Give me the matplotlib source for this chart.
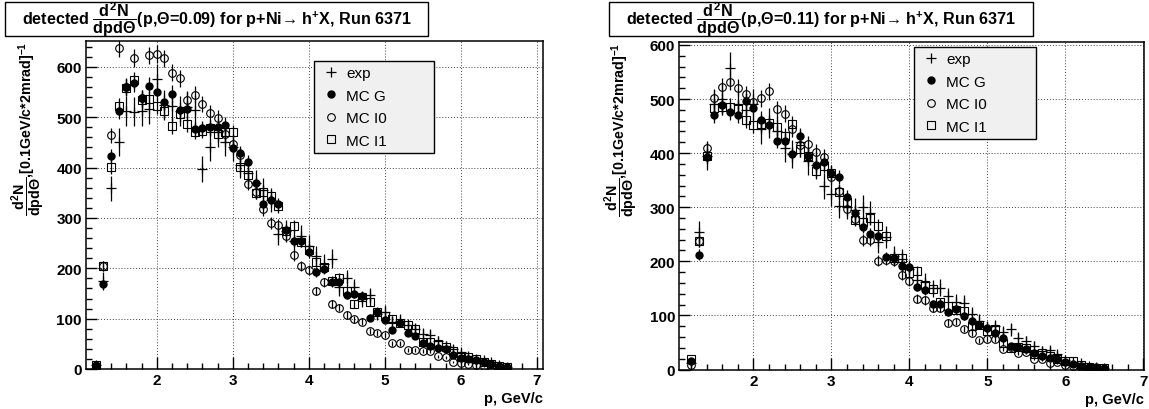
import numpy as np
import matplotlib
matplotlib.use("Agg")
import matplotlib.pyplot as plt
from matplotlib.patches import Rectangle
from matplotlib.ticker import MultipleLocator

plt.rcParams['font.family'] = ['Liberation Sans', 'DejaVu Sans']
plt.rcParams['mathtext.fontset'] = 'custom'
plt.rcParams['mathtext.rm'] = 'Liberation Sans:bold'
plt.rcParams['mathtext.it'] = 'Liberation Sans:bold'
plt.rcParams['mathtext.bf'] = 'Liberation Sans:bold'

# -----------------------------
# Data
# -----------------------------
p_left = np.round(np.arange(1.2, 6.65, 0.1), 1)
p_right = np.round(np.arange(1.2, 6.55, 0.1), 1)

exp_left = [8, 175, 359, 451, 513, 511, 512, 517, 575, 525,
            522, 512, 520, 514, 398, 441, 470, 451, 440, 405,
            390, 370, 355, 335, 268, 275, 255, 265, 245, 225,
            209, 219, 162, 180, 162, 139, 146, 110, 113, 93,
            96, 88, 80, 70, 68, 55, 46, 40, 33, 25,
            20, 17, 13, 8, 4]
mcg_left = [8, 168, 423, 513, 561, 567, 538, 563, 551, 530,
            547, 515, 516, 476, 478, 480, 480, 485, 439, 429,
            411, 369, 328, 335, 327, 277, 254, 254, 232, 193,
            199, 172, 173, 147, 149, 144, 102, 114, 98, 78,
            91, 71, 65, 51, 45, 41, 40, 27, 21, 20,
            17, 13.5, 10, 6, 4]
mci0_left = [5, 205, 464, 637, 560, 618, 538, 623, 626, 617,
             588, 577, 535, 545, 526, 509, 499, 466, 446, 425,
             368, 351, 317, 290, 286, 264, 226, 205, 197, 155,
             172, 129, 122, 107, 99, 94, 75, 72, 68, 51,
             51, 38, 38, 36, 35, 25, 23, 13.5, 12, 9.5,
             7, 5.7, 4, 3, 2]
mci1_left = [7, 205, 401, 523, 559, 573, 535, 536, 523, 512,
             483, 507, 486, 471, 473, 479, 466, 470, 470, 402,
             385, 350, 352, 343, 323, 275, 284, 253, 237, 213,
             202, 175, 181, 154, 129, 143, 134, 113, 106, 99,
             92, 87, 80, 53, 53, 49, 43, 35, 23, 23,
             19, 13.5, 9.5, 5.7, 3.7]

exp_right = [12, 254, 395, 490, 500, 557, 490, 480, 490, 445,
             455, 440, 410, 398, 420, 385, 378, 340, 325, 303,
             300, 295, 300, 290, 235, 245, 210, 205, 185, 165,
             161, 150, 151, 136, 125, 123, 102, 90, 78, 80,
             70, 74, 59, 52, 44, 35, 36, 28, 18, 14,
             12, 7, 5, 3]
mcg_right = [15, 212, 393, 471, 489, 476, 471, 496, 484, 462,
             452, 423, 423, 398, 431, 395, 378, 383, 363, 356,
             319, 290, 264, 250, 246, 208, 207, 192, 189, 153,
             147, 121, 121, 106, 111, 99, 90, 83, 76, 67,
             59, 44, 42, 38, 31, 25, 22, 18.5, 14, 11,
             7, 5, 4, 2.5]
mci0_right = [9, 238, 409, 501, 522, 532, 521, 509, 494, 501,
              514, 481, 473, 445, 415, 417, 402, 393, 356, 330,
              296, 278, 240, 240, 201, 203, 201, 174, 164, 131,
              128, 113, 114, 86, 88, 75, 67, 54, 57, 57,
              38, 42, 30, 32, 20, 19, 12, 13, 9, 6,
              5, 3, 2, 1.5]
mci1_right = [19, 237, 395, 484, 486, 486, 482, 462, 452, 454,
              456, 449, 432, 454, 407, 395, 367, 376, 364, 328,
              309, 277, 273, 280, 266, 247, 207, 207, 178, 182,
              156, 148, 125, 118, 110, 108, 81, 83, 71, 74,
              49, 40, 42, 40, 28, 31, 25, 20, 15, 15,
              9, 5, 3, 2]

labels = ["exp", "MC G", "MC I0", "MC I1"]
thetas = ["0.09", "0.11"]

# -----------------------------
# Figure
# -----------------------------
W, H = 1149, 410
fig = plt.figure(figsize=(W / 100, H / 100), dpi=100)

ax_l = fig.add_axes([86 / W, 40 / H, 457 / W, 328.3 / H])
ax_r = fig.add_axes([679.3 / W, 39.5 / H, 464.7 / W, 327.8 / H])

frac = r'$\dfrac{d^{2}N}{dpd\Theta}$'


def draw_panel(ax, p, exp, mcg, mci0, mci1, xlim, ymax, leg_x, leg_top):
    exp = np.array(exp, float)
    mcg = np.array(mcg, float)
    mci0 = np.array(mci0, float)
    mci1 = np.array(mci1, float)
    kw = dict(ls='none', ecolor='black', elinewidth=0.9, capsize=0)
    # poisson-like statistical errors
    h_exp = ax.errorbar(p, exp, yerr=1.3 * np.sqrt(exp), marker='+', ms=7,
                        mew=0.9, color='black', **kw)
    h_g = ax.errorbar(p, mcg, yerr=0.7 * np.sqrt(mcg), marker='o', ms=5,
                      mfc='black', mec='black', **kw)
    h_i0 = ax.errorbar(p, mci0, yerr=0.7 * np.sqrt(mci0), marker='o', ms=5.5,
                       mfc='none', mec='black', mew=0.8, **kw)
    h_i1 = ax.errorbar(p, mci1, yerr=0.7 * np.sqrt(mci1), marker='s', ms=5.5,
                       mfc='none', mec='black', mew=0.8, **kw)

    ax.set_xlim(*xlim)
    ax.set_ylim(0, ymax)
    ax.xaxis.set_major_locator(MultipleLocator(1))
    ax.xaxis.set_minor_locator(MultipleLocator(0.2))
    ax.yaxis.set_major_locator(MultipleLocator(100))
    ax.yaxis.set_minor_locator(MultipleLocator(20))
    ax.tick_params(which='both', direction='in', top=False, right=False,
                   width=1, labelsize=11)
    ax.tick_params(axis='y', which='major', length=8, pad=3)
    ax.tick_params(axis='y', which='minor', length=4)
    ax.tick_params(axis='x', which='major', length=9, pad=3)
    ax.tick_params(axis='x', which='minor', length=4.5)
    for lab in ax.get_xticklabels() + ax.get_yticklabels():
        lab.set_fontweight('bold')
    ax.grid(True, which='major', ls=(0, (1, 2)), color='#444444', lw=0.7)
    for s in ax.spines.values():
        s.set_linewidth(1.1)

    ax.set_xlabel("p, GeV/c", loc='right', fontsize=10.5, fontweight='bold',
                  labelpad=3)
    ax.set_ylabel(frac + r',[0.1GeV/c*2mrad]$^{-1}$', loc='top', fontsize=10.3,
                  fontweight='bold')
    ax.yaxis.set_label_coords(-0.085, 1.0)

    leg = ax.legend([h_exp[0], h_g[0], h_i0[0], h_i1[0]], labels,
                    loc='upper left', bbox_to_anchor=(leg_x, 0, 0.262, leg_top),
                    mode='expand', fontsize=11, labelspacing=0.55,
                    borderpad=0.35, handlelength=1.5, handletextpad=0.25,
                    borderaxespad=0, fancybox=False, framealpha=1)
    leg.get_frame().set_facecolor('#f0f0f0')
    leg.get_frame().set_edgecolor('black')
    leg.get_frame().set_linewidth(1.0)


draw_panel(ax_l, p_left, exp_left, mcg_left, mci0_left, mci1_left,
           (1.07, 7.08), 652, 0.499, 0.938)
draw_panel(ax_r, p_right, exp_right, mcg_right, mci0_right, mci1_right,
           (1.05, 7.01), 606, 0.505, 0.984)

# -----------------------------
# Title boxes
# -----------------------------
for x0, x1, th in [(5, 428, thetas[0]), (609, 1033, thetas[1])]:
    fig.add_artist(Rectangle((x0 / W, 1 - 37 / H), (x1 - x0) / W, 34 / H,
                             transform=fig.transFigure, facecolor='white',
                             edgecolor='black', lw=1.0))
    fig.text((x0 + x1) / 2 / W, 1 - 20 / H,
             "detected " + frac + "(p,Θ=" + th + ") for p+Ni→ h$^{+}$X, Run 6371",
             ha='center', va='center', fontsize=11.6, fontweight='bold')

fig.savefig("out.png", dpi=100)
